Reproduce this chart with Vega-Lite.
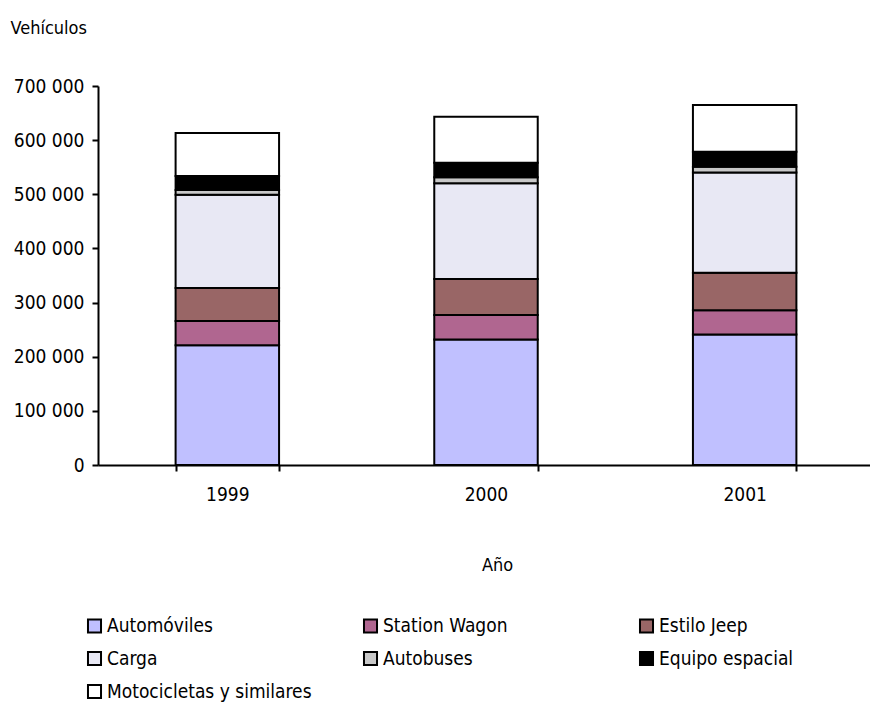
{
  "$schema": "https://vega.github.io/schema/vega-lite/v6.json",
  "width": 776,
  "height": 379,
  "padding": {"left": 98, "top": 86, "right": 0, "bottom": 241},
  "autosize": {"type": "none"},
  "background": "white",
  "config": {
    "view": {"stroke": null},
    "font": "DejaVu Sans Condensed",
    "axis": {"labelFont": "DejaVu Sans Condensed", "titleFont": "DejaVu Sans Condensed", "labelColor": "black", "titleColor": "black", "grid": false, "domainColor": "black", "tickColor": "black", "domainWidth": 2, "tickWidth": 2},
    "legend": {"labelFont": "DejaVu Sans Condensed"}
  },
  "data": {
    "values": [
      {"anio": "1999", "tipo": "Automóviles", "orden": 1, "valor": 221000},
      {"anio": "1999", "tipo": "Station Wagon", "orden": 2, "valor": 45000},
      {"anio": "1999", "tipo": "Estilo Jeep", "orden": 3, "valor": 61000},
      {"anio": "1999", "tipo": "Carga", "orden": 4, "valor": 172000},
      {"anio": "1999", "tipo": "Autobuses", "orden": 5, "valor": 9000},
      {"anio": "1999", "tipo": "Equipo espacial", "orden": 6, "valor": 26000},
      {"anio": "1999", "tipo": "Motocicletas y  similares", "orden": 7, "valor": 79000},
      {"anio": "2000", "tipo": "Automóviles", "orden": 1, "valor": 232000},
      {"anio": "2000", "tipo": "Station Wagon", "orden": 2, "valor": 45000},
      {"anio": "2000", "tipo": "Estilo Jeep", "orden": 3, "valor": 66600},
      {"anio": "2000", "tipo": "Carga", "orden": 4, "valor": 176700},
      {"anio": "2000", "tipo": "Autobuses", "orden": 5, "valor": 11000},
      {"anio": "2000", "tipo": "Equipo espacial", "orden": 6, "valor": 27000},
      {"anio": "2000", "tipo": "Motocicletas y  similares", "orden": 7, "valor": 85000},
      {"anio": "2001", "tipo": "Automóviles", "orden": 1, "valor": 241000},
      {"anio": "2001", "tipo": "Station Wagon", "orden": 2, "valor": 45000},
      {"anio": "2001", "tipo": "Estilo Jeep", "orden": 3, "valor": 69000},
      {"anio": "2001", "tipo": "Carga", "orden": 4, "valor": 185400},
      {"anio": "2001", "tipo": "Autobuses", "orden": 5, "valor": 10400},
      {"anio": "2001", "tipo": "Equipo espacial", "orden": 6, "valor": 27600},
      {"anio": "2001", "tipo": "Motocicletas y  similares", "orden": 7, "valor": 86300}
    ]
  },
  "mark": {"type": "bar", "stroke": "black", "strokeWidth": 2, "opacity": 1},
  "encoding": {
    "x": {
      "field": "anio", "type": "nominal", "sort": null,
      "scale": {"paddingInner": 0.6, "paddingOuter": 0.3},
      "axis": {
        "title": "Año", "titleFontSize": 18, "titleFontWeight": "normal",
        "titleX": 399, "titleY": 100, "titleBaseline": "middle", "titleAnchor": null, "titleAlign": "center",
        "labelAngle": 0, "labelFontSize": 19, "labelPadding": 14, "tickBand": "extent", "tickSize": 6
      }
    },
    "y": {
      "field": "valor", "type": "quantitative", "aggregate": "sum", "stack": "zero",
      "scale": {"domain": [0, 700000], "nice": false},
      "axis": {
        "values": [0, 100000, 200000, 300000, 400000, 500000, 600000, 700000],
        "labelExpr": "replace(format(datum.value, ','), ',', ' ')",
        "labelFontSize": 19, "labelPadding": 8, "tickSize": 6,
        "title": "Vehículos", "titleAngle": 0, "titleFontSize": 18, "titleFontWeight": "normal",
        "titleX": -88, "titleY": -58, "titleAlign": "left", "titleBaseline": "middle", "titleAnchor": null
      }
    },
    "color": {
      "field": "tipo", "type": "nominal",
      "scale": {
        "domain": ["Automóviles", "Station Wagon", "Estilo Jeep", "Carga", "Autobuses", "Equipo espacial", "Motocicletas y  similares"],
        "range": ["#C0C0FF", "#B06690", "#996666", "#E8E8F4", "#C8C8C8", "#000000", "#FFFFFF"]
      },
      "legend": {
        "title": null, "orient": "none", "legendX": -13, "legendY": 530,
        "direction": "horizontal", "columns": 3, "gridAlign": "all",
        "columnPadding": 42, "rowPadding": 10,
        "symbolType": "square", "symbolSize": 170, "symbolStrokeColor": "black", "symbolStrokeWidth": 2, "symbolOpacity": 1,
        "labelFontSize": 19, "labelColor": "black", "labelOffset": 3, "labelLimit": 400
      }
    },
    "order": {"field": "orden", "type": "quantitative"}
  }
}
